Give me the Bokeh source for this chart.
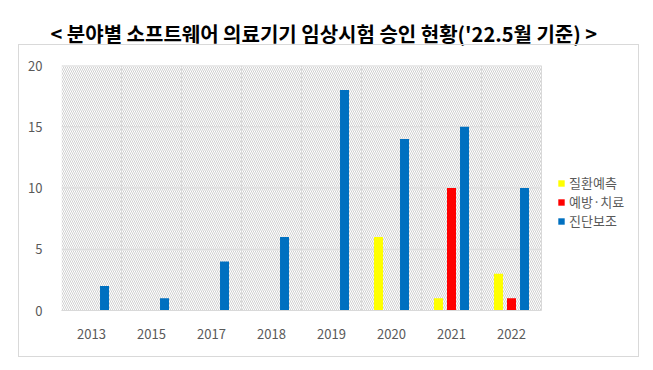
from bokeh.plotting import figure
from bokeh.models import (Range1d, BoxAnnotation, Legend, LegendItem,
                          FixedTicker, ColumnDataSource, InlineStyleSheet)
from bokeh.embed import file_html
from bokeh.resources import INLINE

years = ["2013", "2015", "2017", "2018", "2019", "2020", "2021", "2022"]
prediction = [0, 0, 0, 0, 0, 6, 1, 3]      # 질환예측
treatment = [0, 0, 0, 0, 0, 0, 10, 1]      # 예방·치료
diagnosis = [2, 1, 4, 6, 18, 14, 15, 10]   # 진단보조
series_names = ["질환예측", "예방·치료", "진단보조"]
series_colors = ["#FFFF00", "#FF0000", "#0070C0"]
y_ticks = [0, 5, 10, 15, 20]
title_text = "< 분야별 소프트웨어 의료기기 임상시험 승인 현황('22.5월 기준) >"

FONT = "Noto Sans CJK KR"
GRAY = "#d9d9d9"
TXT = "#595959"

W, H = 645, 362
LEFT, RIGHT, TOP, BOTTOM = 61, 5, 65, 52
CAT_PX = 60  # width of one category slot in pixels

n = len(years)
centers = [i + 0.5 for i in range(n)]
frame_w = W - LEFT - RIGHT
x_end = frame_w / CAT_PX

offs = [-0.217, 0.0, 0.217]
src = ColumnDataSource(dict(
    xa=[c + offs[0] for c in centers], xb=[c + offs[1] for c in centers],
    xc=[c + offs[2] for c in centers],
    a=prediction, b=treatment, c=diagnosis))

border_css = InlineStyleSheet(css="""
:host { position: relative; }
:host::after {
  content: ""; position: absolute; left: 18px; top: 44px;
  width: 621px; height: 313px; box-sizing: border-box;
  border: 1px solid #d9d9d9; pointer-events: none;
}
""")

p = figure(width=W, height=H, output_backend="svg", toolbar_location=None,
           x_range=Range1d(0, x_end), y_range=Range1d(0, 20),
           min_border_left=LEFT, min_border_right=RIGHT, min_border_top=TOP,
           min_border_bottom=BOTTOM, stylesheets=[border_css])

p.title.text = title_text
p.title.text_font = FONT
p.title.text_font_style = "bold"
p.title.text_font_size = "20px"
p.title.text_color = "black"
p.title.align = "left"
p.title.vertical_align = "top"
p.title.offset = -11
p.title.standoff = 32

p.outline_line_color = None

# hatched plot background (only over the category slots)
hatch = BoxAnnotation(left=0, right=n, fill_color=None, line_color=None, hatch_pattern="\\",
                      hatch_color="#d0d0d0", hatch_scale=4, hatch_weight=1, level="image")
p.add_layout(hatch)

# horizontal grid lines limited to the category area
p.segment(x0=0, x1=n, y0=y_ticks, y1=y_ticks, line_color=GRAY, line_width=1, level="underlay")
p.ygrid.visible = False
p.xgrid.ticker = FixedTicker(ticks=list(range(1, n + 1)))
p.xgrid.grid_line_color = GRAY

renderers = []
for xcol, col, color in zip(["xa", "xb", "xc"], ["a", "b", "c"], series_colors):
    r = p.vbar(x=xcol, top=col, width=0.15, source=src, fill_color=color, line_color=None)
    renderers.append(r)

legend = Legend(items=[LegendItem(label=nm, renderers=[r]) for nm, r in zip(series_names, renderers)],
                location=(496, 80), glyph_width=8, glyph_height=8, label_height=15,
                spacing=0, padding=0, margin=0, border_line_color=None,
                background_fill_alpha=0, label_text_font=FONT, label_text_font_size="13px",
                label_text_color=TXT, label_standoff=4)
p.add_layout(legend)

p.xaxis.ticker = FixedTicker(ticks=centers)
p.xaxis.major_label_overrides = {c: y for c, y in zip(centers, years)}
p.xaxis.bounds = (0, n)
p.yaxis.ticker = FixedTicker(ticks=y_ticks)

for ax in (p.xaxis, p.yaxis):
    ax.major_tick_line_color = None
    ax.minor_tick_line_color = None
    ax.major_label_text_font = FONT
    ax.major_label_text_font_size = "13px"
    ax.major_label_text_color = TXT
p.yaxis.axis_line_color = None
p.xaxis.axis_line_color = GRAY
p.xaxis.major_label_standoff = 12
p.yaxis.major_label_standoff = 13

open("out.html", "w").write(file_html(p, INLINE))
